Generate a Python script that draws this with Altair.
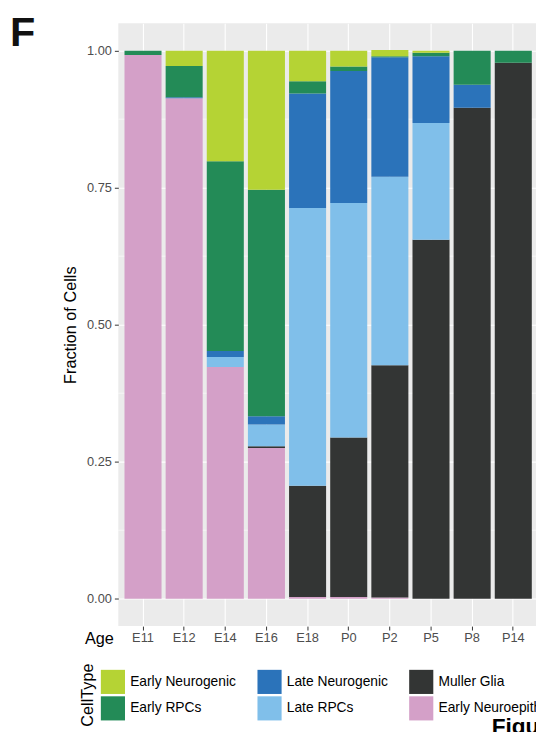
import altair as alt
import pandas as pd

ages = ["E11", "E12", "E14", "E16", "E18", "P0", "P2", "P5", "P8", "P14"]

# stacking order, bottom to top
stack_order = ["Early Neuroepithelial", "Muller Glia", "Late RPCs",
               "Late Neurogenic", "Early RPCs", "Early Neurogenic"]

early_neuroepithelial = [0.992, 0.913, 0.423, 0.275, 0.003, 0.003, 0.002, 0.000, 0.000, 0.000]
muller_glia           = [0.000, 0.000, 0.000, 0.003, 0.203, 0.291, 0.424, 0.655, 0.896, 0.978]
late_rpcs             = [0.000, 0.000, 0.018, 0.040, 0.507, 0.428, 0.344, 0.213, 0.000, 0.000]
late_neurogenic       = [0.000, 0.002, 0.011, 0.015, 0.209, 0.241, 0.218, 0.122, 0.042, 0.000]
early_rpcs            = [0.008, 0.057, 0.346, 0.413, 0.022, 0.008, 0.002, 0.006, 0.062, 0.022]
early_neurogenic      = [0.000, 0.028, 0.202, 0.254, 0.056, 0.029, 0.011, 0.004, 0.000, 0.000]

series = {
    "Early Neuroepithelial": early_neuroepithelial,
    "Muller Glia": muller_glia,
    "Late RPCs": late_rpcs,
    "Late Neurogenic": late_neurogenic,
    "Early RPCs": early_rpcs,
    "Early Neurogenic": early_neurogenic,
}

# legend order (Vega fills the 3-column legend column by column)
legend_order = ["Early Neurogenic", "Early RPCs", "Late Neurogenic",
                "Late RPCs", "Muller Glia", "Early Neuroepithelial"]
legend_colors = ["#B5D334", "#238B57", "#2B73BA",
                 "#80BFEA", "#333534", "#D4A0C8"]

y_major = [0.0, 0.25, 0.5, 0.75, 1.0]
y_minor = [0.125, 0.375, 0.625, 0.875]

rows = []
for i, age in enumerate(ages):
    base = 0.0
    for ct in stack_order:
        v = series[ct][i]
        rows.append({"Age": age, "CellType": ct, "y0": base, "y1": base + v})
        base += v
df = pd.DataFrame(rows)
df = df[df["y1"] > df["y0"]]

FONT = "Liberation Sans"

yscale = alt.Scale(domain=[-0.05, 1.05], nice=False, zero=False)
xscale = alt.Scale(domain=ages, range=[0, 426], paddingInner=0.1, paddingOuter=0.15)

minor = alt.Chart(pd.DataFrame({"v": y_minor})).mark_rule(
    color="white", strokeWidth=0.6
).encode(y=alt.Y("v:Q", scale=yscale))

bars = alt.Chart(df).mark_bar().encode(
    x=alt.X("Age:N", scale=xscale, sort=ages,
            axis=alt.Axis(title="Age", titleX=-5, titleY=13, titleAlign="right",
                          titleBaseline="middle", titleAngle=0, titleFontSize=16.5,
                          titleFontWeight="normal", titleColor="black",
                          labelAngle=0, labelFontSize=13, labelColor="#4D4D4D",
                          labelPadding=2, tickSize=4, tickColor="#333333",
                          domain=False, grid=True, gridColor="white", gridWidth=1.1,
                          bandPosition=0.5)),
    y=alt.Y("y0:Q", scale=yscale,
            axis=alt.Axis(title="Fraction of Cells", values=y_major, format=".2f",
                          titleFontSize=16.5, titleFontWeight="normal", titleColor="black",
                          titlePadding=8, labelFontSize=13, labelColor="#4D4D4D",
                          labelPadding=3, tickSize=4, tickColor="#333333",
                          domain=False, grid=True, gridColor="white", gridWidth=1.1)),
    y2="y1:Q",
    color=alt.Color("CellType:N",
                    scale=alt.Scale(domain=legend_order, range=legend_colors),
                    legend=alt.Legend(title=None, orient="none", legendX=-18, legendY=656,
                                      columns=3, symbolType="square", symbolSize=600,
                                      symbolStrokeWidth=0, labelFontSize=14, labelColor="black",
                                      labelOffset=5, columnPadding=21, rowPadding=2,
                                      padding=0, labelLimit=200)),
)

panel_label = alt.Chart(pd.DataFrame({"t": ["F"]})).mark_text(
    align="left", baseline="alphabetic", fontSize=42, fontWeight="bold", color="#111111"
).encode(text="t:N", x=alt.value(-110), y=alt.value(23))

legend_title = alt.Chart(pd.DataFrame({"t": ["CellType"]})).mark_text(
    align="center", baseline="middle", fontSize=16.5, angle=270, color="black"
).encode(text="t:N", x=alt.value(-31), y=alt.value(682))

fig_text = alt.Chart(pd.DataFrame({"t": ["Figure"]})).mark_text(
    align="left", baseline="alphabetic", fontSize=23, fontWeight="bold", color="black"
).encode(text="t:N", x=alt.value(379), y=alt.value(721.5))

chart = alt.layer(minor, bars, panel_label, legend_title, fig_text).properties(
    width=424, height=612,
    autosize=alt.AutoSizeParams(type="none"),
    padding={"left": 112, "top": 10, "right": 0, "bottom": 102},
).configure(font=FONT).configure_view(fill="#EBEBEB", strokeWidth=0)

chart.save("out.html", embed_options={"renderer": "svg", "actions": False})
